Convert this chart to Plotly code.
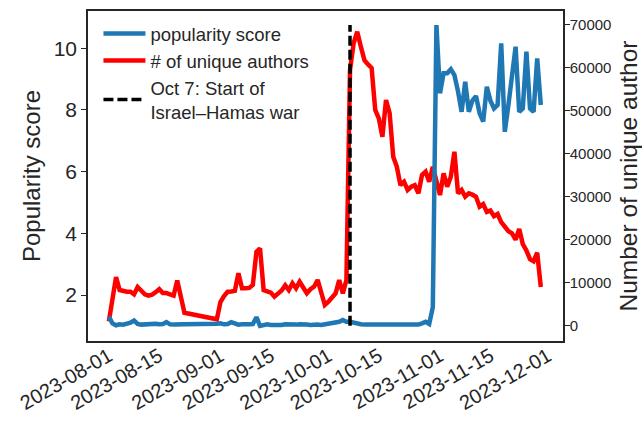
import pandas as pd
import plotly.graph_objects as go

# ---- data ----
dates_seg1 = pd.date_range("2023-08-01", "2023-08-22", freq="D")
dates_seg2 = pd.date_range("2023-08-31", "2023-11-29", freq="D")
dates = list(dates_seg1) + list(dates_seg2)

authors_aug = [1000, 6500, 11300, 8300, 8000, 7900, 7900, 7300, 9000, 8300, 7300,
               7000, 7200, 7800, 8500, 7600, 7600, 7300, 7000, 10500, 7200, 3000]
authors_sep_oct = [1500, 5500, 6900, 7900, 7950, 8100, 12200, 8700, 8700, 8800, 9500,
                   17200, 18000, 8300, 8000, 7700, 6750, 7500, 8200, 9400, 8300, 9870,
                   8700, 10240, 8700, 7540, 8500, 9080, 10640, 7540, 4820, 5590, 6750,
                   7540, 10640, 7540, 10640]
authors_war = [59520, 65740, 68440, 65000, 61800, 60800, 60000, 50210, 48270, 43990,
               52540, 49500, 39340, 37010, 32750, 33520, 31590, 32350, 32700, 30820,
               35080, 35850, 33520, 37010, 33150, 30420, 35470, 32350, 34680, 40500,
               30820, 31590, 30030, 30800, 30500, 30030, 27700, 28300, 26500, 26800,
               25500, 26000, 24100, 23000, 22000, 21500, 20000, 22500, 19000, 17500,
               15500, 15000, 17000, 9000]

pop_aug = [1.30, 1.08, 1.02, 1.05, 1.04, 1.06, 1.10, 1.17, 1.06, 1.04, 1.05,
           1.04, 1.06, 1.07, 1.05, 1.06, 1.12, 1.05, 1.04, 1.05, 1.04, 1.05]
pop_sep_oct = [1.07, 1.08, 1.05, 1.06, 1.12, 1.08, 1.04, 1.05, 1.04, 1.05, 1.06,
               1.28, 1.00, 1.04, 1.05, 1.03, 1.02, 1.04, 1.03, 1.05, 1.04, 1.02,
               1.04, 1.05, 1.03, 1.04, 1.03, 1.05, 1.04, 1.03, 1.05, 1.04, 1.06,
               1.08, 1.13, 1.19, 1.13]
pop_war = [1.13, 1.10, 1.06, 1.05, 1.04, 1.04, 1.03, 1.04, 1.03, 1.04,
           1.05, 1.04, 1.03, 1.04, 1.05, 1.04, 1.05, 1.04, 1.03, 1.04,
           1.08, 1.13, 1.06, 1.60, 10.75, 8.54, 9.19, 9.19, 9.32, 9.13,
           8.60, 7.94, 8.91, 7.94, 8.30, 8.45, 7.89, 7.62, 8.75, 8.30,
           8.05, 8.16, 10.16, 7.29, 8.16, 9.10, 10.05, 7.94, 8.05, 9.89,
           8.05, 7.94, 9.67, 8.16]

authors = authors_aug + authors_sep_oct + authors_war
popularity = pop_aug + pop_sep_oct + pop_war

war_date = "2023-10-07"
war_line_y = [0, 70000]

xtick_labels = ["2023-08-01", "2023-08-15", "2023-09-01", "2023-09-15", "2023-10-01",
                "2023-10-15", "2023-11-01", "2023-11-15", "2023-12-01"]
left_ticks = [2, 4, 6, 8, 10]
right_ticks = [0, 10000, 20000, 30000, 40000, 50000, 60000, 70000]

# ---- figure ----
FONT = "Liberation Sans, Arial, sans-serif"
INK = "#262626"

fig = go.Figure()
fig.add_trace(go.Scatter(x=dates, y=authors, mode="lines", name="# of unique authors",
                         line=dict(color="#ff0000", width=4.5), yaxis="y", legendrank=2))
fig.add_trace(go.Scatter(x=dates, y=popularity, mode="lines", name="popularity score",
                         line=dict(color="#1f77b4", width=4.5), yaxis="y2", legendrank=1))
fig.add_trace(go.Scatter(x=[war_date, war_date], y=war_line_y, mode="lines",
                         name="Oct 7: Start of<br>Israel–Hamas war",
                         line=dict(color="black", width=3.5, dash="10px,4px"),
                         yaxis="y3", legendrank=3))

right_range = [-3560, 73250]
fig.update_layout(
    width=642, height=424,
    margin=dict(l=88, r=79, t=11, b=83),
    paper_bgcolor="white", plot_bgcolor="white",
    font=dict(family=FONT, color=INK),
    showlegend=True,
    legend=dict(x=0.022, y=0.988, xanchor="left", yanchor="top", itemwidth=42,
                bgcolor="rgba(255,255,255,0)", font=dict(size=18.5, color=INK),
                tracegroupgap=0),
    xaxis=dict(type="date", range=["2023-07-26 05:00", "2023-12-05 04:00"],
               tickvals=xtick_labels, ticktext=xtick_labels, tickangle=-30,
               tickfont=dict(size=20, color=INK), ticks="", automargin=False,
               ticklabelstandoff=-6,
               showline=True, linecolor=INK, linewidth=1.5, mirror=True,
               showgrid=False, zeroline=False),
    yaxis=dict(side="right", range=right_range, tickvals=right_ticks, tickformat="d",
               tickfont=dict(size=15, color=INK), ticks="outside", ticklen=5,
               tickcolor=INK, tickwidth=1.2, automargin=False, ticklabelstandoff=-3,
               showline=True, linecolor=INK, linewidth=1.5,
               showgrid=False, zeroline=False,
               title=dict(text="Number of unique author", font=dict(size=24.5, color=INK),
                          standoff=19)),
    yaxis2=dict(side="left", overlaying="y", anchor="x", range=[0.509, 11.206],
                tickvals=left_ticks, tickfont=dict(size=21, color=INK), automargin=False,
                ticks="outside", ticklen=5, tickcolor=INK, tickwidth=1.2,
                showline=True, linecolor=INK, linewidth=1.5,
                showgrid=False, zeroline=False,
                title=dict(text="Popularity score", font=dict(size=24, color=INK),
                           standoff=6)),
    yaxis3=dict(overlaying="y", range=right_range, visible=False, showgrid=False,
                zeroline=False),
)

fig.write_html("out.html", config={"displayModeBar": False},
               post_script="document.body.style.margin='0px';"
                           "document.body.style.overflow='hidden';")
